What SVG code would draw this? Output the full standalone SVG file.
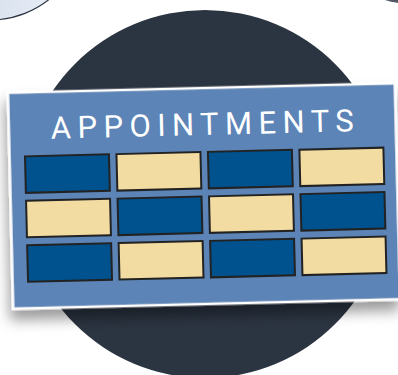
<svg xmlns="http://www.w3.org/2000/svg" width="398" height="375" viewBox="0 0 398 375">
  <defs>
    <linearGradient id="lb" x1="0" y1="0" x2="1" y2="0.3">
      <stop offset="0" stop-color="#b9c8e0"/>
      <stop offset="1" stop-color="#e6ecf5"/>
    </linearGradient>
    <linearGradient id="tr" x1="0" y1="0" x2="1" y2="0">
      <stop offset="0" stop-color="#2b3441"/>
      <stop offset="1" stop-color="#8a8f98"/>
    </linearGradient>
    <filter id="sh" x="-10%" y="-10%" width="120%" height="130%">
      <feDropShadow dx="-2" dy="10" stdDeviation="7" flood-color="#000" flood-opacity="0.4"/>
    </filter>
    <style>
      .dk { fill: #00528f; stroke: #222; stroke-width: 2; }
      .tn { fill: #f2dca2; stroke: #222; stroke-width: 2; }
      .title { font-family: Roboto, "Liberation Sans", sans-serif; font-size: 31px; fill: #fff; }
    </style>
  </defs>
  <rect width="398" height="375" fill="#fff"/>
  <g id="bubble-left">
    <circle cx="-10" cy="-75" r="95" fill="url(#lb)" stroke="#2b3441" stroke-width="1.2"/>
  </g>
  <g id="bubble-right">
    <circle cx="420" cy="-120" r="125" fill="url(#tr)"/>
  </g>
  <g id="backdrop">
    <circle cx="205" cy="194" r="184" fill="#2b3441"/>
  </g>
  <g id="card" transform="rotate(-1.4 204 196)">
    <rect x="10.5" y="88" width="387" height="216" fill="#5c84b6" stroke="#fff" stroke-width="2.5" filter="url(#sh)"/>
    <text class="title" x="52.5" y="135" textLength="303" lengthAdjust="spacing">APPOINTMENTS</text>
    <g id="grid">
      <rect class="dk" x="26" y="152" width="84" height="36.5"/>
      <rect class="tn" x="117.5" y="152" width="84" height="36.5"/>
      <rect class="dk" x="209" y="152" width="84" height="36.5"/>
      <rect class="tn" x="300.5" y="152" width="84" height="36.5"/>
      <rect class="tn" x="26" y="196.5" width="84" height="36.5"/>
      <rect class="dk" x="117.5" y="196.5" width="84" height="36.5"/>
      <rect class="tn" x="209" y="196.5" width="84" height="36.5"/>
      <rect class="dk" x="300.5" y="196.5" width="84" height="36.5"/>
      <rect class="dk" x="26" y="241" width="84" height="36.5"/>
      <rect class="tn" x="117.5" y="241" width="84" height="36.5"/>
      <rect class="dk" x="209" y="241" width="84" height="36.5"/>
      <rect class="tn" x="300.5" y="241" width="84" height="36.5"/>
    </g>
  </g>
  <g id="connectors"/>
</svg>
